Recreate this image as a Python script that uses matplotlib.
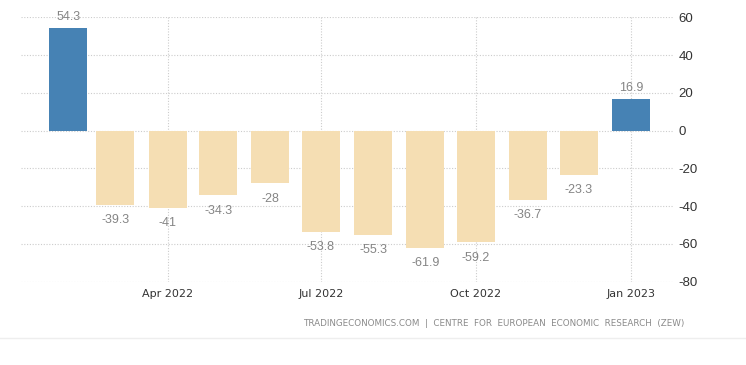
import matplotlib
matplotlib.use("Agg")
import matplotlib.pyplot as plt
import matplotlib.dates as mdates
from matplotlib import font_manager as fm
import datetime as dt

plt.rcParams["axes.unicode_minus"] = False

months = ["2022-02", "2022-03", "2022-04", "2022-05", "2022-06", "2022-07",
          "2022-08", "2022-09", "2022-10", "2022-11", "2022-12", "2023-01"]
values = [54.3, -39.3, -41, -34.3, -28, -53.8, -55.3, -61.9, -59.2, -36.7, -23.3, 16.9]
labels = ["54.3", "-39.3", "-41", "-34.3", "-28", "-53.8", "-55.3", "-61.9",
          "-59.2", "-36.7", "-23.3", "16.9"]
xticks = ["2022-04", "2022-07", "2022-10", "2023-01"]
yticks = [60, 40, 20, 0, -20, -40, -60, -80]
source = "TRADINGECONOMICS.COM  |  CENTRE  FOR  EUROPEAN  ECONOMIC  RESEARCH  (ZEW)"

names = {f.name for f in fm.fontManager.ttflist}
narrow = "Liberation Sans Narrow" if "Liberation Sans Narrow" in names else "Liberation Sans"

def d(s):
    y, m = s.split("-")
    return dt.date(int(y), int(m), 1)

dates = [d(m) for m in months]
POS = "#4682b4"
NEG = "#f5deb3"
colors = [POS if v >= 0 else NEG for v in values]

fig = plt.figure(figsize=(7.46, 3.65), dpi=100)
ax = fig.add_axes([21/746, 1-281.7/365, (673-21)/746, (281.7-17.3)/365])

ax.bar(dates, values, width=22.6, color=colors, zorder=2)
ax.set_ylim(-80, 60)
ax.set_xlim(dt.date(2022, 1, 4), dt.date(2023, 1, 26))

for x, v, t in zip(dates, values, labels):
    off = 8 if v >= 0 else -11
    ax.annotate(t, (mdates.date2num(x), v), xytext=(0, off), textcoords="offset points",
                ha="center", va="center", fontsize=9, color="#858585",
                family=narrow, annotation_clip=False)

ax.set_xticks([mdates.date2num(d(s)) for s in xticks])
ax.xaxis.set_major_formatter(mdates.DateFormatter("%b %Y"))
ax.set_yticks(yticks)
ax.yaxis.tick_right()
ax.tick_params(axis="both", length=0)
ax.tick_params(axis="y", pad=4, labelsize=9.5, labelcolor="#333333")
ax.tick_params(axis="x", pad=5, labelsize=8, labelcolor="#333333")
for lab in ax.get_yticklabels():
    lab.set_family(narrow)
for lab in ax.get_xticklabels():
    lab.set_family("DejaVu Sans")

ax.grid(True, which="major", axis="both", color="#cccccc", linestyle=(0, (1, 1.5)), linewidth=0.8, zorder=0)
ax.set_axisbelow(True)
for s in ax.spines.values():
    s.set_visible(False)

fig.text(684/746, 1-323/365, source, ha="right", va="center", fontsize=6.3,
         color="#8a8a8a", family="DejaVu Sans")
fig.add_artist(plt.Line2D([0, 1], [1-338/365, 1-338/365], color="#eeeeee", linewidth=1,
                          transform=fig.transFigure))

fig.savefig("out.png", dpi=100)
